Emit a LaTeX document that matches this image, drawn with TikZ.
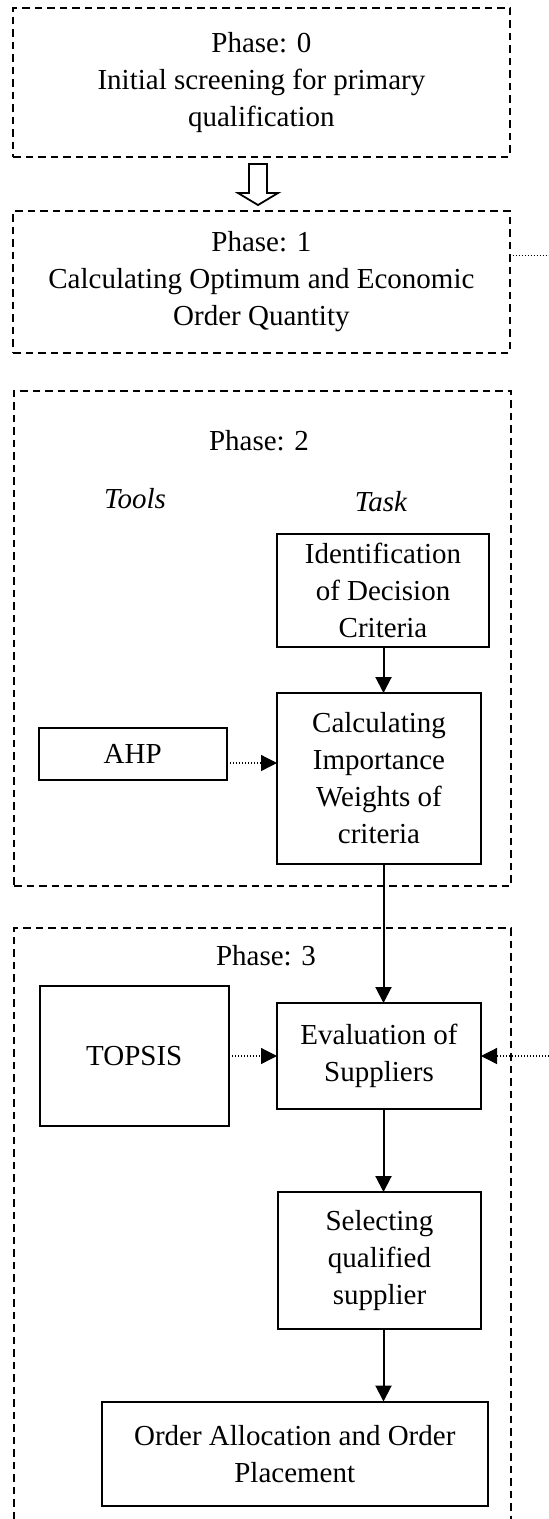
\documentclass[tikz,border=0pt]{standalone}
\usepackage{fontspec}
\setmainfont{Liberation Serif}
\usetikzlibrary{arrows.meta,calc}
\begin{document}
\begin{tikzpicture}[x=1pt,y=-1pt,
  every node/.style={font=\fontsize{29}{37}\selectfont, inner sep=0pt, outer sep=0pt, align=center},
  phasebox/.style={draw, rectangle, line width=2pt, dash pattern=on 7.5pt off 5pt},
  phaseline/.style={line width=2pt, dash pattern=on 7.5pt off 5pt},
  taskbox/.style={draw, rectangle, line width=2pt},
  flow/.style={line width=2pt, -{Triangle[width=16pt,length=16pt]}},
  dotline/.style={line width=1.3pt, dash pattern=on 1.4pt off 1.6pt},
  dotflow/.style={dotline, -{Triangle[width=16pt,length=16pt]}},
  hollow/.style={draw, line width=1.8pt, line join=miter}]
\useasboundingbox (0,0) rectangle (549,1519);

% Phase 0 and 1
\node[phasebox, minimum width=496.2pt, minimum height=148.8pt] (p0) at (261.4,82.1)
  {Phase: 0\\Initial screening for primary\\qualification};
\node[phasebox, minimum width=496.2pt, minimum height=142pt] (p1) at (261.4,282)
  {Phase: 1\\Calculating Optimum and Economic\\Order Quantity};
% hollow arrow between phase 0 and phase 1
\draw[hollow] (249,164) -- (267,164) -- (267,193) -- (278,193) -- (258,205)
  -- (238,193) -- (249,193) -- cycle;
\coordinate (r1) at (549,255.6);
\draw[dotline] (r1 -| p1.east) -- (r1);

% Phase 2
\node[phasebox, minimum width=496.5pt, minimum height=495.5pt] (p2) at (262.25,638.25) {};
\node (lab2) at (259,441) {Phase: 2};
\node (tools) at (135,499) {\itshape Tools};
\node (task) at (381,502) {\itshape Task};
\node[taskbox, minimum width=212pt, minimum height=113pt] (ident) at (383,590.5)
  {Identification\\of Decision\\Criteria};
\node[taskbox, minimum width=204pt, minimum height=171pt] (calc) at (379,778.5)
  {Calculating\\Importance\\Weights of\\criteria};
\node[taskbox, minimum width=188.5pt, minimum height=52pt] (ahp) at (132.75,754) {AHP};

% Phase 3
\draw[phaseline] (14,1519) -- (14,928) -- (510.5,928) -- (510.5,1519);
\node (lab3) at (266,956) {Phase: 3};
\node[taskbox, minimum width=189.5pt, minimum height=140.5pt] (topsis) at (134.25,1055.75) {TOPSIS};
\node[taskbox, minimum width=204pt, minimum height=106pt] (eval) at (379,1056)
  {Evaluation of\\Suppliers};
\node[taskbox, minimum width=203pt, minimum height=137pt] (sel) at (379.5,1260.5)
  {Selecting\\qualified\\supplier};
\node[taskbox, minimum width=386.5pt, minimum height=104.5pt] (order) at (294.75,1453.75)
  {Order Allocation and Order\\Placement};

% connectors
\coordinate (colx) at (383.5,0);
\draw[flow] (ident.south -| colx) -- (calc.north -| colx);
\draw[flow] (calc.south -| colx) -- (eval.north -| colx);
\draw[flow] (eval.south -| colx) -- (sel.north -| colx);
\draw[flow] (sel.south -| colx) -- (order.north -| colx);
\coordinate (a1) at ($(ahp.east)+(0,9)$);
\draw[dotflow] (a1) -- (a1 -| calc.west);
\draw[dotflow] (topsis.east |- eval.west) -- (eval.west);
\coordinate (r2) at (549,1056);
\draw[dotflow] (r2) -- (r2 -| eval.east);
\end{tikzpicture}
\end{document}
